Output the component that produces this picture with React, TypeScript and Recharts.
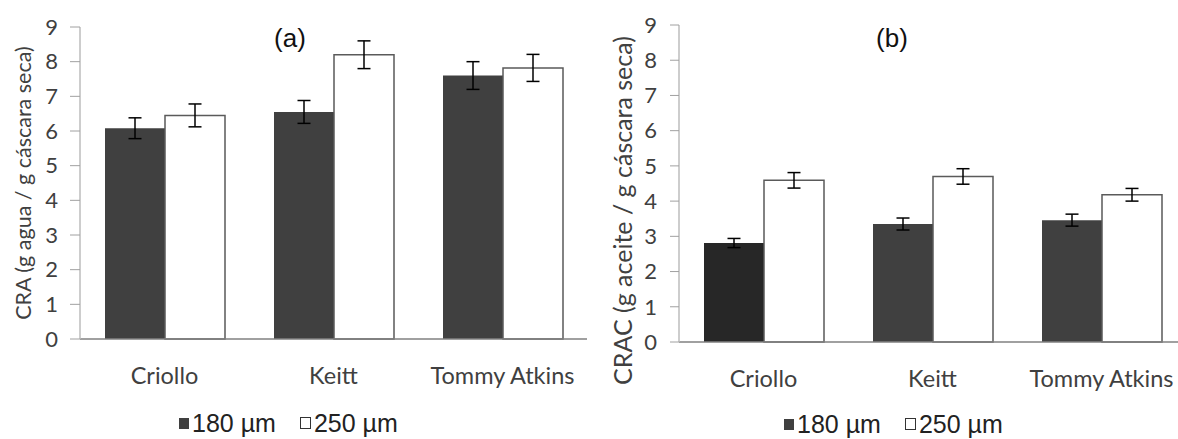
import React from 'react';
import { BarChart, Bar, XAxis, YAxis, ErrorBar, Label, Cell } from 'recharts';

const categories = ['Criollo', 'Keitt', 'Tommy Atkins'];
const yTicks = [0, 1, 2, 3, 4, 5, 6, 7, 8, 9];
const seriesNames = ['180 µm', '250 µm'];

// (a) CRA, g agua / g cáscara seca
const cra180 = [6.08, 6.55, 7.6];
const cra180Err = [0.3, 0.33, 0.4];
const cra250 = [6.45, 8.2, 7.82];
const cra250Err = [0.33, 0.4, 0.39];

// (b) CRAC, g aceite / g cáscara seca
const crac180 = [2.81, 3.35, 3.46];
const crac180Err = [0.13, 0.17, 0.17];
const crac250 = [4.59, 4.7, 4.18];
const crac250Err = [0.22, 0.22, 0.18];

const darkFill = '#404040';
const darkFillB = ['#272727', '#404040', '#404040'];
const axisFont = 'Lato, "Open Sans", sans-serif';
const legendFont = '"Liberation Sans", Arial, sans-serif';

const dataA = categories.map((name, i) => ({
  name,
  s180: cra180[i],
  e180: cra180Err[i],
  s250: cra250[i],
  e250: cra250Err[i],
}));

const dataB = categories.map((name, i) => ({
  name,
  s180: crac180[i],
  e180: crac180Err[i],
  s250: crac250[i],
  e250: crac250Err[i],
}));

const YTitle = (props: any) => {
  const { viewBox, value, cx, dy, fontSize } = props;
  const px = viewBox.x + cx;
  const py = viewBox.y + viewBox.height / 2 + dy;
  return (
    <text
      transform={`translate(${px}, ${py}) rotate(-90)`}
      textAnchor="middle"
      dominantBaseline="central"
      fontFamily={axisFont}
      fontSize={fontSize}
      fill="#404040"
    >
      {value}
    </text>
  );
};

const LegendBox = ({ left, top }: { left: number; top: number }) => (
  <div
    style={{
      position: 'absolute',
      left,
      top,
      display: 'flex',
      alignItems: 'center',
      fontFamily: legendFont,
      fontSize: 25,
      color: '#222',
      whiteSpace: 'nowrap',
      lineHeight: '20px',
    }}
  >
    <span style={{ width: 10, height: 11, background: darkFill, marginRight: 3, display: 'inline-block' }} />
    <span>{seriesNames[0]}</span>
    <span
      style={{
        width: 9,
        height: 10,
        border: '1px solid #333',
        background: '#fff',
        marginLeft: 24,
        marginRight: 3,
        display: 'inline-block',
      }}
    />
    <span>{seriesNames[1]}</span>
  </div>
);

const Title = ({ text, left, top }: { text: string; left: number; top: number }) => (
  <div
    style={{
      position: 'absolute',
      left,
      top,
      transform: 'translate(-50%, -50%)',
      fontFamily: legendFont,
      fontSize: 26,
      color: '#111',
    }}
  >
    {text}
  </div>
);

export default function App() {
  return (
    <div
      style={{
        position: 'fixed',
        left: 0,
        top: 0,
        width: 1178,
        height: 439,
        overflow: 'hidden',
        background: '#fff',
      }}
    >
      {/* panel (a) */}
      <div style={{ position: 'absolute', left: 0, top: 0 }}>
        <BarChart
          width={600}
          height={439}
          data={dataA}
          margin={{ top: 27, right: 13, bottom: 70, left: 0 }}
          barGap={0}
          barSize={60}
        >
          <XAxis
            dataKey="name"
            height={30}
            tickLine={false}
            tickMargin={22}
            axisLine={{ stroke: '#808080', strokeWidth: 1.5 }}
            tick={{ fontFamily: axisFont, fontSize: 23.5, fill: '#404040' }}
          />
          <YAxis
            width={80}
            domain={[0, 9]}
            ticks={yTicks}
            interval={0}
            tickSize={10}
            tickMargin={12}
            axisLine={{ stroke: '#bdbdbd', strokeWidth: 1.5 }}
            tickLine={{ stroke: '#a0a0a0' }}
            tick={{ fontFamily: axisFont, fontSize: 22, fill: '#404040' }}
          >
            <Label
              value="CRA (g agua / g cáscara seca)"
              content={(p: any) => <YTitle {...p} cx={23} dy={0} fontSize={21.5} />}
            />
          </YAxis>
          <Bar dataKey="s180" fill={darkFill} isAnimationActive={false}>
            <ErrorBar dataKey="e180" width={6.5} stroke="#000" strokeWidth={1.5} />
          </Bar>
          <Bar dataKey="s250" fill="#fff" stroke="#5a5a5a" strokeWidth={1.5} isAnimationActive={false}>
            <ErrorBar dataKey="e250" width={6.5} stroke="#000" strokeWidth={1.5} />
          </Bar>
        </BarChart>
        <Title text="(a)" left={290} top={38} />
        <LegendBox left={179} top={413} />
      </div>

      {/* panel (b) */}
      <div style={{ position: 'absolute', left: 600, top: 0 }}>
        <BarChart
          width={600}
          height={439}
          data={dataB}
          margin={{ top: 25, right: 14, bottom: 67, left: 0 }}
          barGap={0}
          barSize={60}
        >
          <XAxis
            dataKey="name"
            height={30}
            tickLine={false}
            tickMargin={22}
            axisLine={{ stroke: '#808080', strokeWidth: 1.5 }}
            tick={{ fontFamily: axisFont, fontSize: 23.5, fill: '#404040' }}
          />
          <YAxis
            width={79}
            domain={[0, 9]}
            ticks={yTicks}
            interval={0}
            tickSize={9}
            tickMargin={13}
            axisLine={{ stroke: '#bdbdbd', strokeWidth: 1.5 }}
            tickLine={{ stroke: '#a0a0a0' }}
            tick={{ fontFamily: axisFont, fontSize: 22, fill: '#404040' }}
          >
            <Label
              value="CRAC (g aceite / g cáscara seca)"
              content={(p: any) => <YTitle {...p} cx={22} dy={27} fontSize={25} />}
            />
          </YAxis>
          <Bar dataKey="s180" isAnimationActive={false}>
            {dataB.map((d, i) => (
              <Cell key={d.name} fill={darkFillB[i]} />
            ))}
            <ErrorBar dataKey="e180" width={6.5} stroke="#000" strokeWidth={1.5} />
          </Bar>
          <Bar dataKey="s250" fill="#fff" stroke="#5a5a5a" strokeWidth={1.5} isAnimationActive={false}>
            <ErrorBar dataKey="e250" width={6.5} stroke="#000" strokeWidth={1.5} />
          </Bar>
        </BarChart>
        <Title text="(b)" left={292} top={38} />
        <LegendBox left={184} top={414} />
      </div>
    </div>
  );
}
